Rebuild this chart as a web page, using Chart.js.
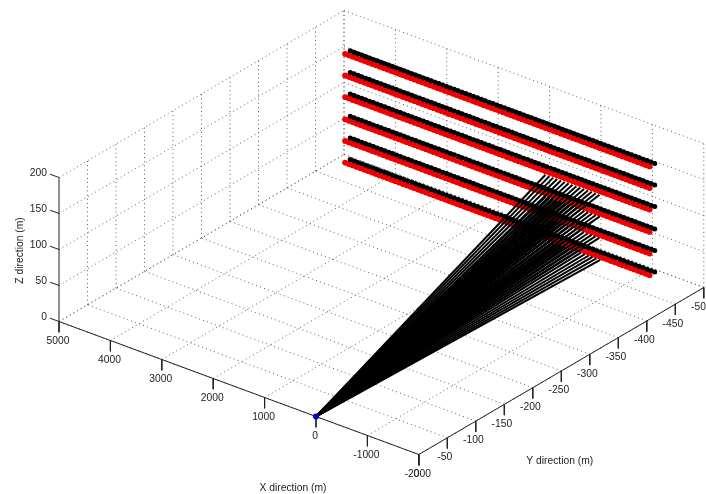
<!DOCTYPE html>
<html>
<head>
<meta charset="utf-8">
<title>3D geometry</title>
<style>
  html, body { margin: 0; padding: 0; background: #fff; overflow: hidden; }
  canvas { display: block; }
</style>
<script src="https://cdn.jsdelivr.net/npm/chart.js@4"></script>
</head>
<body>
<canvas id="geometry" width="706" height="494"></canvas>
<script>
'use strict';

// axis ticks, in metres
var xTicks = [5000, 4000, 3000, 2000, 1000, 0, -1000, -2000];
var yTicks = [0, -50, -100, -150, -200, -250, -300, -350, -400, -450, -500];
var zTicks = [0, 50, 100, 150, 200];

// along-track positions of the markers on every row
var rowX = [-1600, -1525, -1450, -1375, -1300, -1225, -1150, -1075, -1000, -925,
  -850, -775, -700, -625, -550, -475, -400, -325, -250, -175,
  -100, -25, 50, 125, 200, 275, 350, 425, 500, 575,
  650, 725, 800, 875, 950, 1025, 1100, 1175, 1250, 1325,
  1400, 1475, 1550, 1625, 1700, 1775, 1850, 1925, 2000, 2075,
  2150, 2225, 2300, 2375, 2450, 2525, 2600, 2675, 2750, 2825,
  2900, 2975, 3050, 3125, 3200, 3275, 3350, 3425, 3500, 3575,
  3650, 3725, 3800, 3875, 3950, 4025, 4100, 4175, 4250, 4325];
var rowZ = [34, 64, 94, 125, 155, 185];
var blackRowY = -450;
var redRowY = -441;

// the rays from the source end on the four lower rows, a little apart on each
var rayXLow = [-640, -565, -490, -415, -340, -265, -190, -115, -40, 35, 110, 185, 260, 335, 410];
var rayXMid = [-620, -545, -470, -395, -320, -245, -170, -95, -20, 55, 130, 205, 280, 355, 430];
var rayXUp = [-630, -555, -480, -405, -330, -255, -180, -105, -30, 45, 120, 195, 270, 345, 420];
var rayXTop = [-625, -550, -475, -400, -325, -250, -175, -100, -25, 50, 125, 200, 275, 350, 425];
var rayZ = [30, 60, 90, 120];
var source = [0, 0, 0];

// viewing projection: metres to screen
function project(x, y, z) {
  return {
    x: 316 - 0.0514 * x - 0.57 * y,
    y: 416.5 - 0.019 * x + 0.334 * y - 0.72 * z
  };
}

var datasets = [];

function addLine(from, to, color, width, dash, order) {
  datasets.push({
    data: [project(from[0], from[1], from[2]), project(to[0], to[1], to[2])],
    showLine: true,
    borderColor: color,
    borderWidth: width,
    borderDash: dash,
    pointRadius: 0,
    order: order
  });
}

function addRow(y, z, color, thick, radius, order) {
  var points = [];
  for (var i = 0; i < rowX.length; i++) {
    points.push(project(rowX[i], y, z));
  }
  datasets.push({
    data: points,
    showLine: true,
    borderColor: color,
    borderWidth: thick,
    pointRadius: radius,
    pointBorderWidth: 0,
    pointBackgroundColor: color,
    order: order
  });
}

// dotted grid on the floor and the two back walls
var gridColor = '#606060';
var dots = [1, 3.2];
var xMax = xTicks[0];
var xMin = xTicks[xTicks.length - 1];
var yMin = yTicks[yTicks.length - 1];
var zMax = zTicks[zTicks.length - 1];
var i, j;
for (i = 0; i < xTicks.length; i++) {
  addLine([xTicks[i], 0, 0], [xTicks[i], yMin, 0], gridColor, 1, dots, 6);
  addLine([xTicks[i], yMin, 0], [xTicks[i], yMin, zMax], gridColor, 1, dots, 6);
}
for (i = 0; i < yTicks.length; i++) {
  addLine([xMin, yTicks[i], 0], [xMax, yTicks[i], 0], gridColor, 1, dots, 6);
  if (i > 0) {
    addLine([xMax, yTicks[i], 0], [xMax, yTicks[i], zMax], gridColor, 1, dots, 6);
  }
}
for (i = 0; i < zTicks.length; i++) {
  addLine([xMax, 0, zTicks[i]], [xMax, yMin, zTicks[i]], gridColor, 1, dots, 6);
  addLine([xMax, yMin, zTicks[i]], [xMin, yMin, zTicks[i]], gridColor, 1, dots, 6);
}

// solid axes and their tick marks
var axisColor = '#222';
addLine([xMax, 0, 0], [xMin, 0, 0], axisColor, 1, [], 5);
addLine([xMin, 0, 0], [xMin, yMin, 0], axisColor, 1, [], 5);
addLine([xMax, 0, 0], [xMax, 0, zMax], axisColor, 1, [], 5);
for (i = 0; i < xTicks.length; i++) {
  addLine([xTicks[i], 0, 0], [xTicks[i], 0, -15], axisColor, 1, [], 5);
}
for (i = 0; i < yTicks.length; i++) {
  addLine([xMin, yTicks[i], 0], [xMin, yTicks[i], -15], axisColor, 1, [], 5);
}
for (i = 0; i < zTicks.length; i++) {
  addLine([xMax, 0, zTicks[i]], [xMax + 175, 0, zTicks[i]], axisColor, 1, [], 5);
}

// red rows sit under the rays, black rows on top of them
for (i = 0; i < rowZ.length; i++) {
  addRow(redRowY, rowZ[i], '#f00000', 5, 2.9, 4);
  addRow(blackRowY, rowZ[i], '#000000', 3.6, 2.5, 2);
}
var rayRows = [rayXLow, rayXMid, rayXUp, rayXTop];
for (i = 0; i < rayZ.length; i++) {
  for (j = 0; j < rayRows[i].length; j++) {
    addLine(source, [rayRows[i][j], redRowY, rayZ[i]], '#000000', 2, [], 3);
  }
}

// source point
datasets.push({
  data: [project(source[0], source[1], source[2])],
  showLine: false,
  pointRadius: 3,
  pointBorderWidth: 0,
  pointBackgroundColor: '#0000c8',
  order: 1
});

// tick labels and axis titles go through the same scales as the marks
var textPlugin = {
  id: 'axisText',
  afterDatasetsDraw: function (chart) {
    var ctx = chart.ctx;
    var sx = chart.scales.x;
    var sy = chart.scales.y;
    function put(text, p, dx, dy, align) {
      ctx.textAlign = align;
      ctx.fillText(text, sx.getPixelForValue(p.x) + dx, sy.getPixelForValue(p.y) + dy);
    }
    var k;
    ctx.save();
    ctx.font = '10.3px "Liberation Sans", Arial, sans-serif';
    ctx.fillStyle = '#222';
    ctx.textBaseline = 'middle';
    for (k = 0; k < xTicks.length; k++) {
      put(String(xTicks[k]), project(xTicks[k], 0, 0), -1, 19.5, 'center');
    }
    for (k = 0; k < yTicks.length; k++) {
      put(String(yTicks[k]), project(xMin, yTicks[k], 0), -2.5, 19.5, 'center');
    }
    for (k = 0; k < zTicks.length; k++) {
      put(String(zTicks[k]), project(xMax + 175, 0, zTicks[k]), -3, -1, 'right');
    }
    put('X direction (m)', project(0, 0, 0), -23, 72, 'center');
    put('Y direction (m)', project(xMin, -200, 0), 27, 73, 'center');
    ctx.translate(sx.getPixelForValue(20), sy.getPixelForValue(250.5));
    ctx.rotate(-Math.PI / 2);
    ctx.textAlign = 'center';
    ctx.fillText('Z direction (m)', 0, 0);
    ctx.restore();
  }
};

new Chart(document.getElementById('geometry').getContext('2d'), {
  type: 'scatter',
  data: { datasets: datasets },
  plugins: [textPlugin],
  options: {
    responsive: false,
    animation: false,
    layout: { padding: 0, autoPadding: false },
    plugins: { legend: { display: false }, tooltip: { enabled: false } },
    scales: {
      x: { type: 'linear', min: 0, max: 706, display: false },
      y: { type: 'linear', min: 0, max: 494, reverse: true, display: false }
    }
  }
});
</script>
</body>
</html>
